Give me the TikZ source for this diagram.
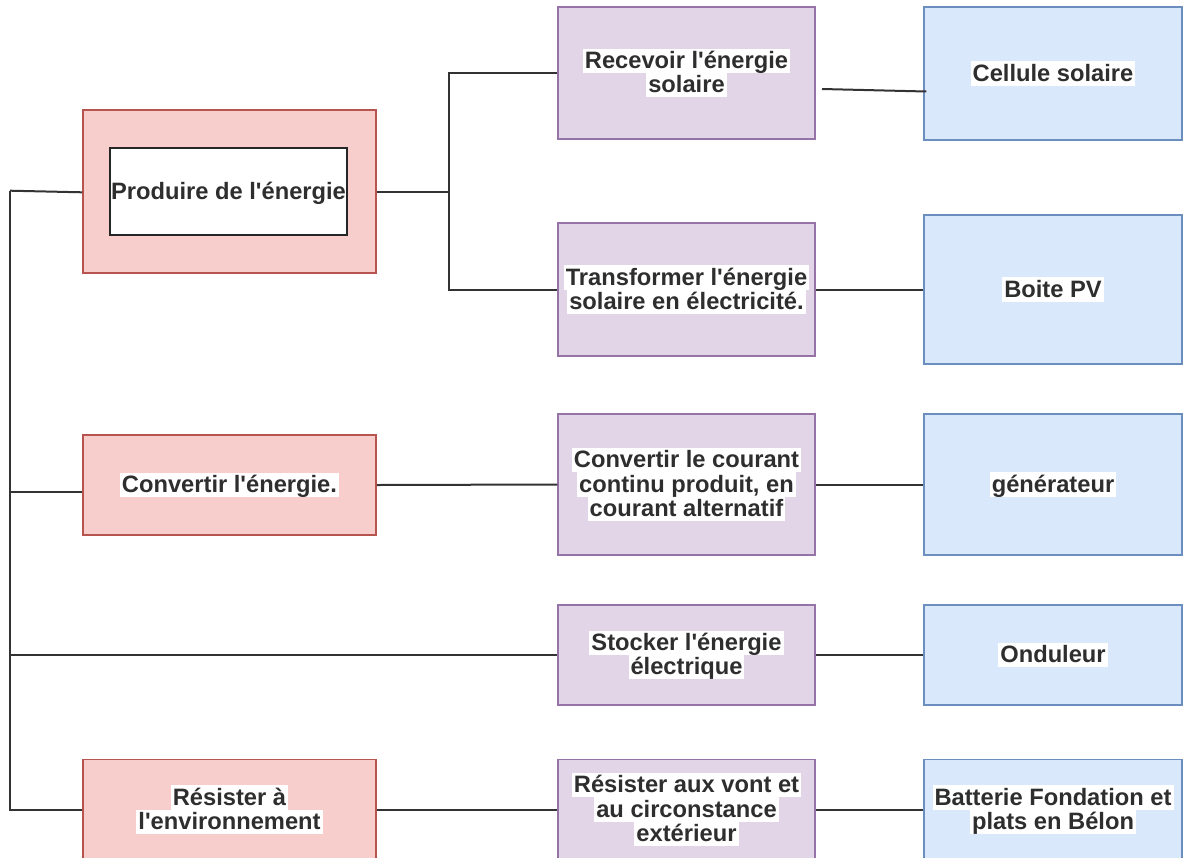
\documentclass[tikz,border=0pt]{standalone}
\usepackage{fontspec}
\usepackage{xcolor}
\usepackage{tikz}
\usetikzlibrary{positioning}

\newfontfamily\diafont{Liberation Sans}

\definecolor{redfill}{HTML}{F8CECC}
\definecolor{redline}{HTML}{B85450}
\definecolor{purfill}{HTML}{E1D5E7}
\definecolor{purline}{HTML}{9673A6}
\definecolor{bluefill}{HTML}{DAE8FC}
\definecolor{blueline}{HTML}{6C8EBF}

% white highlight behind each line of text
\newcommand{\hl}[1]{{\setlength{\fboxsep}{0pt}\colorbox{white}{\kern1pt\rule[-0.19em]{0pt}{1.025em}\smash{#1}\kern1pt}}}

\begin{document}
\begin{tikzpicture}[
    x=0.5pt, y=-0.5pt,
    box/.style={rectangle, line width=0.75pt, inner sep=0pt, align=center, text=black!82,
        font=\diafont\bfseries\fontsize{11.85}{12.15}\selectfont},
    sz/.style 2 args={minimum width=#1*0.5pt, minimum height=#2*0.5pt},
    fct/.style={box, fill=redfill, draw=redline},
    sub/.style={box, fill=purfill, draw=purline},
    sol/.style={box, fill=bluefill, draw=blueline},
    link/.style={draw=black!80, line width=1pt}
]
\useasboundingbox (0,0) rectangle (1187,857);
\clip (0,0) rectangle (1187,857);

% MAIN FUNCTIONS
\node[fct, sz={293}{163}] (prod) at (229.5,191.5) {};
\node[box, sz={237}{87}, draw=black!85, fill=white] (prodtxt) at (228.5,191.5) {\rule[-0.19em]{0pt}{1.025em}\smash{Produire de l'énergie}};
\node[fct, sz={293}{100}] (conv) at (229.5,485) {\hl{Convertir l'énergie.}};
\node[fct, sz={293}{100}] (resist) at (229.5,809.5) {\hl{Résister à}\\\hl{l'environnement}};

% SUB FUNCTIONS
\node[sub, sz={257}{132}] (recv) at (686.5,73) {\hl{Recevoir l'énergie}\\\hl{solaire}};
\node[sub, sz={257}{133}] (trans) at (686.5,289.5) {\hl{Transformer l'énergie}\\\hl{solaire en électricité.}};
\node[sub, sz={257}{141}] (curr) at (686.5,484.5) {\hl{Convertir le courant}\\\hl{continu produit, en}\\\hl{courant alternatif}};
\node[sub, sz={257}{100}] (stock) at (686.5,655) {\hl{Stocker l'énergie}\\\hl{électrique}};
\node[sub, sz={257}{100}] (vont) at (686.5,809.5) {\hl{Résister aux vont et}\\\hl{au circonstance}\\\hl{extérieur}};

% SOLUTIONS
\node[sol, sz={258}{133}] (cell) at (1053,73.5) {\hl{Cellule solaire}};
\node[sol, sz={258}{149}] (boite) at (1053,289.5) {\hl{Boite PV}};
\node[sol, sz={258}{141}] (gen) at (1053,484.5) {\hl{générateur}};
\node[sol, sz={258}{100}] (ond) at (1053,655) {\hl{Onduleur}};
\node[sol, sz={258}{100}] (batt) at (1053,809.5) {\hl{Batterie Fondation et}\\\hl{plats en Bélon}};

% Trunk
\coordinate (t1) at (10,190.7);
\coordinate (t2) at (10,492);
\coordinate (t3) at (10,655);
\coordinate (t4) at (10,803);
\coordinate (j1) at (449,191.5);
\coordinate (r1) at (822,89);

% Connections
\draw[link] (t1) -- (t4) |- (resist.west);
\draw[link] (t1) -- ([yshift=-0.4pt]prod.west);
\draw[link] (t2) -- ([yshift=-3.5pt]conv.west);
\draw[link] (t3) -- (stock.west);
\draw[link] (prod.east) -- (j1);
\draw[link] (recv.west) -| (j1) |- (trans.west);
\draw[link] (r1) -- ([shift={(1.5pt,-9pt)}]cell.west);
\draw[link] (trans.east) -- (boite.west);
\draw[link] (conv.east) -- (curr.west);
\draw[link] (curr.east) -- (gen.west);
\draw[link] (stock.east) -- (ond.west);
\draw[link] (resist.east) -- (vont.west);
\draw[link] (vont.east) -- (batt.west);

\end{tikzpicture}
\end{document}
